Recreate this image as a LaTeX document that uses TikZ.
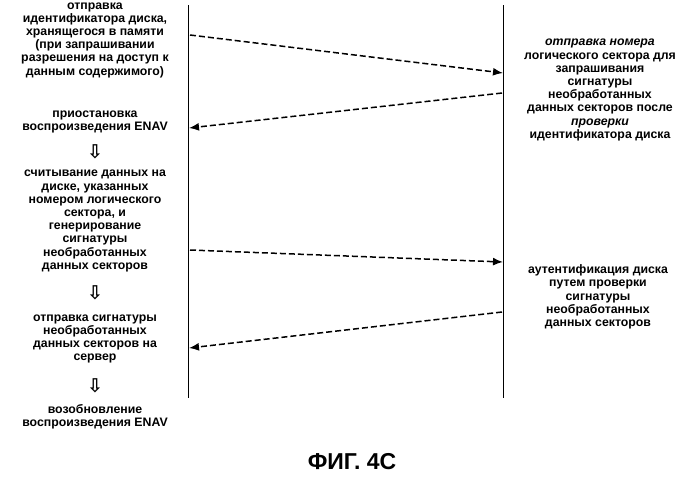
\documentclass[tikz,border=0pt]{standalone}
\usepackage{fontspec}
\setmainfont{Liberation Sans}
\newfontfamily\dejavu{DejaVu Sans}
\usetikzlibrary{arrows.meta}
\begin{document}
\begin{tikzpicture}[x=1pt,y=-1pt,
  txt/.style={align=center,font=\bfseries\fontsize{12.3}{13.2}\selectfont,inner sep=0pt},
  msg/.style={draw,line width=1.5pt,dash pattern=on 6pt off 3pt,-{Latex[length=10pt,width=8pt]}},
  life/.style={draw,line width=1pt},
  down/.style={font=\dejavu\bfseries\fontsize{19}{19}\selectfont,inner sep=0pt}]
\useasboundingbox (0,0) rectangle (700,483);
\coordinate (lt) at (188,5); \coordinate (lb) at (188,398);
\coordinate (rt) at (503,5); \coordinate (rb) at (503,398);
\draw[life] (lt) -- (lb); \draw[life] (rt) -- (rb);
\node[txt] (l1) at (95,40) {отправка\\идентификатора диска,\\хранящегося в памяти\\(при запрашивании\\разрешения на доступ к\\данным содержимого)};
\node[txt] (l2) at (95,122) {приостановка\\воспроизведения ENAV};
\node[down] (d1) at (95,152) {⇩};
\node[txt] (l3) at (95,221) {считывание данных на\\диске, указанных\\номером логического\\сектора, и\\генерирование\\сигнатуры\\необработанных\\данных секторов};
\node[down] (d2) at (95,293) {⇩};
\node[txt] (l4) at (95,339) {отправка сигнатуры\\необработанных\\данных секторов на\\сервер};
\node[down] (d3) at (95,386) {⇩};
\node[txt] (l5) at (95,417) {возобновление\\воспроизведения ENAV};
\node[txt] (r1) at (600,90) {\textit{отправка номера}\\логического сектора для\\запрашивания\\сигнатуры\\необработанных\\данных секторов после\\\textit{проверки}\\идентификатора диска};
\node[txt] (r2) at (598,297) {аутентификация диска\\путем проверки\\сигнатуры\\необработанных\\данных секторов};
\coordinate (a1s) at (190,35); \coordinate (a1e) at (503,73);
\coordinate (a2s) at (502,93); \coordinate (a2e) at (189,128);
\coordinate (a3s) at (190,250); \coordinate (a3e) at (503,262);
\coordinate (a4s) at (502,312); \coordinate (a4e) at (189,348);
\draw[msg] (a1s) -- (a1e);
\draw[msg] (a2s) -- (a2e);
\draw[msg] (a3s) -- (a3e);
\draw[msg] (a4s) -- (a4e);
\node[txt,font=\bfseries\fontsize{23}{26}\selectfont] (cap) at (352,462) {ФИГ. 4C};
\end{tikzpicture}
\end{document}
